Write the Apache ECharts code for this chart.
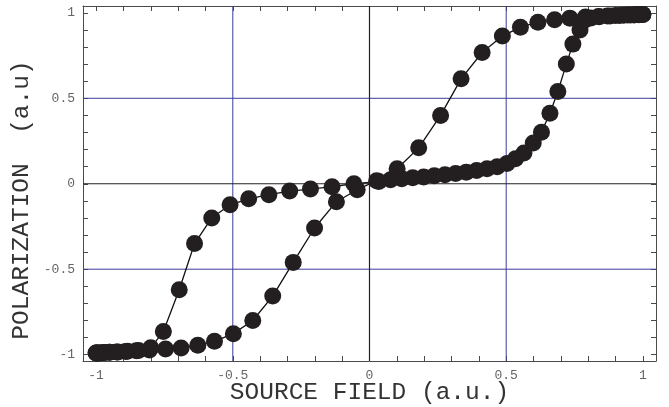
<!DOCTYPE html>
<html>
<head>
<meta charset="utf-8">
<script src="https://cdn.jsdelivr.net/npm/echarts@6/dist/echarts.min.js"></script>
<style>html,body{margin:0;padding:0;background:#fff}#c{width:669px;height:407px}</style>
</head>
<body>
<div id="c"></div>
<script>
// Ascending branch (x from -1 to 1)
var ascX = [-1.0, -0.997, -0.988, -0.973, -0.952, -0.925, -0.892, -0.853, -0.805, -0.746, -0.689, -0.628, -0.567, -0.498, -0.427, -0.354, -0.279, -0.201, -0.121, -0.045, 0.026, 0.101, 0.18, 0.26, 0.335, 0.412, 0.486, 0.552, 0.616, 0.677, 0.733, 0.79, 0.838, 0.88, 0.915, 0.945, 0.968, 0.985, 0.995, 1.0];
var ascY = [-0.99, -0.99, -0.99, -0.988, -0.986, -0.984, -0.981, -0.977, -0.972, -0.967, -0.961, -0.945, -0.922, -0.877, -0.80, -0.657, -0.46, -0.259, -0.105, -0.035, 0.018, 0.088, 0.21, 0.40, 0.614, 0.768, 0.864, 0.916, 0.945, 0.959, 0.969, 0.975, 0.979, 0.982, 0.985, 0.987, 0.988, 0.989, 0.99, 0.99];
// Descending branch (x from 1 to -1)
var descX = [1.0, 0.99, 0.975, 0.955, 0.93, 0.9, 0.87, 0.84, 0.81, 0.785, 0.77, 0.744, 0.72, 0.689, 0.66, 0.629, 0.599, 0.565, 0.534, 0.503, 0.467, 0.43, 0.392, 0.354, 0.315, 0.276, 0.237, 0.198, 0.158, 0.118, 0.077, 0.034, -0.057, -0.137, -0.216, -0.292, -0.368, -0.442, -0.51, -0.577, -0.64, -0.696, -0.754, -0.80, -0.845, -0.885, -0.92, -0.95, -0.972, -0.988, -0.997, -1.0];
var descY = [0.99, 0.99, 0.99, 0.988, 0.986, 0.984, 0.981, 0.977, 0.97, 0.955, 0.90, 0.817, 0.70, 0.54, 0.413, 0.302, 0.238, 0.18, 0.146, 0.118, 0.1, 0.088, 0.077, 0.068, 0.06, 0.053, 0.047, 0.04, 0.035, 0.03, 0.023, 0.013, 0.0, -0.017, -0.031, -0.043, -0.064, -0.088, -0.123, -0.20, -0.35, -0.62, -0.864, -0.96, -0.975, -0.98, -0.984, -0.986, -0.988, -0.99, -0.99, -0.99];

var tickValues = [-1, -0.9, -0.8, -0.7, -0.6, -0.5, -0.4, -0.3, -0.2, -0.1, 0, 0.1, 0.2, 0.3, 0.4, 0.5, 0.6, 0.7, 0.8, 0.9, 1];
var labelValues = [-1, -0.5, 0, 0.5, 1];
var blueLines = [-0.5, 0.5];
var blackLines = [0];

var FONT = '"Liberation Mono", "DejaVu Sans Mono", monospace';
var frameColor = '#4a4a4a';
var blue = '#3c3c9c';
var XMIN = -1.048, XMAX = 1.048, YMIN = -1.037, YMAX = 1.04;

function pairs(xs, ys) { return xs.map(function (x, i) { return [x, ys[i]]; }); }

function makeAxis(pos, isX, showLabel, name) {
  return {
    type: 'value',
    position: pos,
    min: isX ? XMIN : YMIN,
    max: isX ? XMAX : YMAX,
    name: name || '',
    nameLocation: 'middle',
    nameMoveOverlap: false,
    nameGap: isX ? 32 : 61,
    nameTextStyle: {
      fontFamily: FONT, fontSize: 24.5, color: '#333',
      verticalAlign: 'middle',
      padding: isX ? 0 : [0, 33, 0, 0]
    },
    axisLine: { show: true, onZero: false, lineStyle: { color: frameColor, width: 1 } },
    axisTick: { show: true, inside: true, length: 5, customValues: tickValues, lineStyle: { color: frameColor, width: 1 } },
    axisLabel: {
      show: showLabel,
      customValues: labelValues,
      margin: 8,
      fontFamily: FONT,
      fontSize: 13,
      color: '#666',
      formatter: function (v) { return String(Math.round(v * 10) / 10); }
    },
    splitLine: { show: false }
  };
}

function guideSeries(values, color, width) {
  var out = [];
  values.forEach(function (v) {
    out.push({ type: 'line', z: 1, silent: true, symbol: 'none', data: [[v, YMIN], [v, YMAX]], lineStyle: { color: color, width: width } });
    out.push({ type: 'line', z: 1, silent: true, symbol: 'none', data: [[XMIN, v], [XMAX, v]], lineStyle: { color: color, width: width } });
  });
  return out;
}

var series = [].concat(guideSeries(blueLines, blue, 1), guideSeries(blackLines, '#222', 1.2));
series.push({
  type: 'line', data: pairs(ascX, ascY), z: 3,
  symbol: 'circle', symbolSize: 17, showAllSymbol: true,
  lineStyle: { color: '#111', width: 1.3 },
  itemStyle: { color: '#231f20' }
});
series.push({
  type: 'line', data: pairs(descX, descY), z: 3,
  symbol: 'circle', symbolSize: 17, showAllSymbol: true,
  lineStyle: { color: '#111', width: 1.3 },
  itemStyle: { color: '#231f20' }
});

var chart = echarts.init(document.getElementById('c'), null, { renderer: 'canvas' });
chart.setOption({
  animation: false,
  backgroundColor: '#fff',
  grid: { left: 83, right: 13, top: 6, bottom: 46, containLabel: false, outerBoundsMode: 'none' },
  xAxis: [makeAxis('bottom', true, true, 'SOURCE FIELD (a.u.)'), makeAxis('top', true, false)],
  yAxis: [makeAxis('left', false, true, 'POLARIZATION  (a.u)'), makeAxis('right', false, false)],
  series: series
});
</script>
</body>
</html>
